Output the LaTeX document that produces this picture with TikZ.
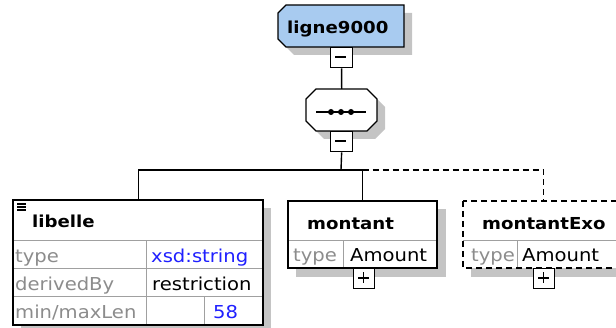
\documentclass[tikz,border=0pt]{standalone}
\usepackage{fontspec}
\newfontfamily\dvfont{DejaVu Sans}[FakeStretch=1.1]
\newcommand{\regf}{\dvfont\fontsize{17.8}{20}\selectfont}
\newcommand{\titf}{\dvfont\bfseries\fontsize{16.5}{19}\selectfont}
\definecolor{elblue}{HTML}{A8CBF0}
\definecolor{shadowgray}{HTML}{C4C4C4}
\definecolor{lblgray}{HTML}{8C8C8C}
\definecolor{valblue}{HTML}{2020FF}
\definecolor{gridgray}{HTML}{A0A0A0}
\begin{document}
\begin{tikzpicture}[x=1pt,y=-1pt,
  conn/.style={line width=1.4pt, black},
  outline/.style={line width=1.4pt, black},
  dashline/.style={line width=1.4pt, black, dash pattern=on 6pt off 4pt},
  grid/.style={line width=1pt, gridgray},
  boxnode/.style={inner sep=0pt, anchor=north west, draw=none},
  lbl/.style={font=\regf, text=lblgray, anchor=base west, inner sep=0pt},
  val/.style={font=\regf, text=black, anchor=base west, inner sep=0pt},
  valb/.style={font=\regf, text=valblue, anchor=base west, inner sep=0pt},
  ttl/.style={font=\titf, text=black, anchor=base west, inner sep=0pt},
  pmbox/.style={draw, line width=1.3pt, fill=white, minimum width=21pt, minimum height=20pt, inner sep=0pt, anchor=north west},
]
\useasboundingbox (0,0) rectangle (616,328);
\clip (0,0) rectangle (616,328);

% ---------- ligne9000 ----------
\fill[shadowgray] (294,13) -- (412,13) -- (412,55) -- (294,55) -- (286,47) -- (286,21) -- cycle;
\node[boxnode, minimum width=126pt, minimum height=42pt] (lg) at (278,5) {};
\filldraw[outline, fill=elblue] (286,5) -- (404,5) -- (404,47) -- (286,47) -- (278,39) -- (278,13) -- cycle;
\node[ttl] (lgt) at (287,34) {ligne9000};
\node[pmbox, minimum width=22pt] (lgm) at (330,47) {};
\draw[line width=1.3pt] (335,57) -- (346,57);

% ---------- sequence ----------
\fill[shadowgray] (324,97) -- (375,97) -- (385,107) -- (385,129) -- (375,139) -- (324,139) -- (314,129) -- (314,107) -- cycle;
\node[boxnode, minimum width=71pt, minimum height=42pt] (seq) at (306,89) {};
\filldraw[outline, fill=white] (316,89) -- (367,89) -- (377,99) -- (377,121) -- (367,131) -- (316,131) -- (306,121) -- (306,99) -- cycle;
\draw[line width=1.3pt] (316,112) -- (366,112);
\foreach \cx in {331,341,351} \fill (\cx,112) circle (3pt);
\node[pmbox, minimum width=22pt] (sqm) at (330,131) {};
\draw[line width=1.3pt] (335,141) -- (346,141);

\draw[conn] (lgm.south) -- (seq.north);

% ---------- libelle ----------
\fill[shadowgray] (21,208) rectangle (271,333);
\node[boxnode, minimum width=250pt, minimum height=125pt, fill=white] (libelle) at (13,200) {};
\draw[grid] (13,241) -- (263,241);
\draw[grid] (13,269) -- (263,269);
\draw[grid] (13,297) -- (263,297);
\draw[grid] (146,241) -- (146,325);
\draw[grid] (204,297) -- (204,325);
\draw[outline] (13,200) rectangle (263,325);
\foreach \iy in {204,207,210} \draw[line width=1.1pt] (17,\iy) -- (26,\iy);
\node[ttl] (libt) at (32,228) {libelle};
\node[lbl] (lib1) at (15,263) {type};
\node[valb] (lib1v) at (151,263) {xsd:string};
\node[lbl] (lib2) at (15,291) {derivedBy};
\node[val] (lib2v) at (152,291) {restriction};
\node[lbl] (lib3) at (15,319) {min/maxLen};
\node[valb] (lib3v) at (213,319) {58};

% ---------- montant ----------
\fill[shadowgray] (296,209) rectangle (446,277);
\node[boxnode, minimum width=149pt, minimum height=67pt, fill=white] (mont) at (288,201) {};
\draw[grid] (288,241) -- (437,241);
\draw[grid] (343,241) -- (343,268);
\draw[outline] (288,201) rectangle (437,268);
\node[ttl] (montt) at (307,230) {montant};
\node[lbl] (mont1) at (293,262) {type};
\node[val] (mont1v) at (350,262) {Amount};
\node[pmbox] (montp) at (353,268) {};
\draw[line width=1.3pt] (358,278) -- (369,278);
\draw[line width=1.3pt] (363.5,272.5) -- (363.5,283.5);

% ---------- montantExo ----------
\fill[shadowgray] (471,209) rectangle (631,277);
\node[boxnode, minimum width=160pt, minimum height=67pt, fill=white] (exo) at (463,201) {};
\draw[grid] (463,241) -- (623,241);
\draw[grid] (517,241) -- (517,268);
\draw[dashline] (463,201) rectangle (623,268);
\node[ttl] (exot) at (482,230) {montantExo};
\node[lbl] (exo1) at (471,262) {type};
\node[val] (exo1v) at (522,262) {Amount};
\node[pmbox] (exop) at (533,268) {};
\draw[line width=1.3pt] (538,278) -- (549,278);
\draw[line width=1.3pt] (543.5,272.5) -- (543.5,283.5);

% ---------- connectors ----------
\coordinate (j) at (341,170);
\draw[conn] (sqm.south) -- (j);
\draw[conn] (libelle.north) -- (libelle.north |- j) -- (mont.north |- j) -- (mont.north);
\draw[dashline] (mont.north |- j) -- (exo.north |- j) -- (exo.north);
\end{tikzpicture}
\end{document}
